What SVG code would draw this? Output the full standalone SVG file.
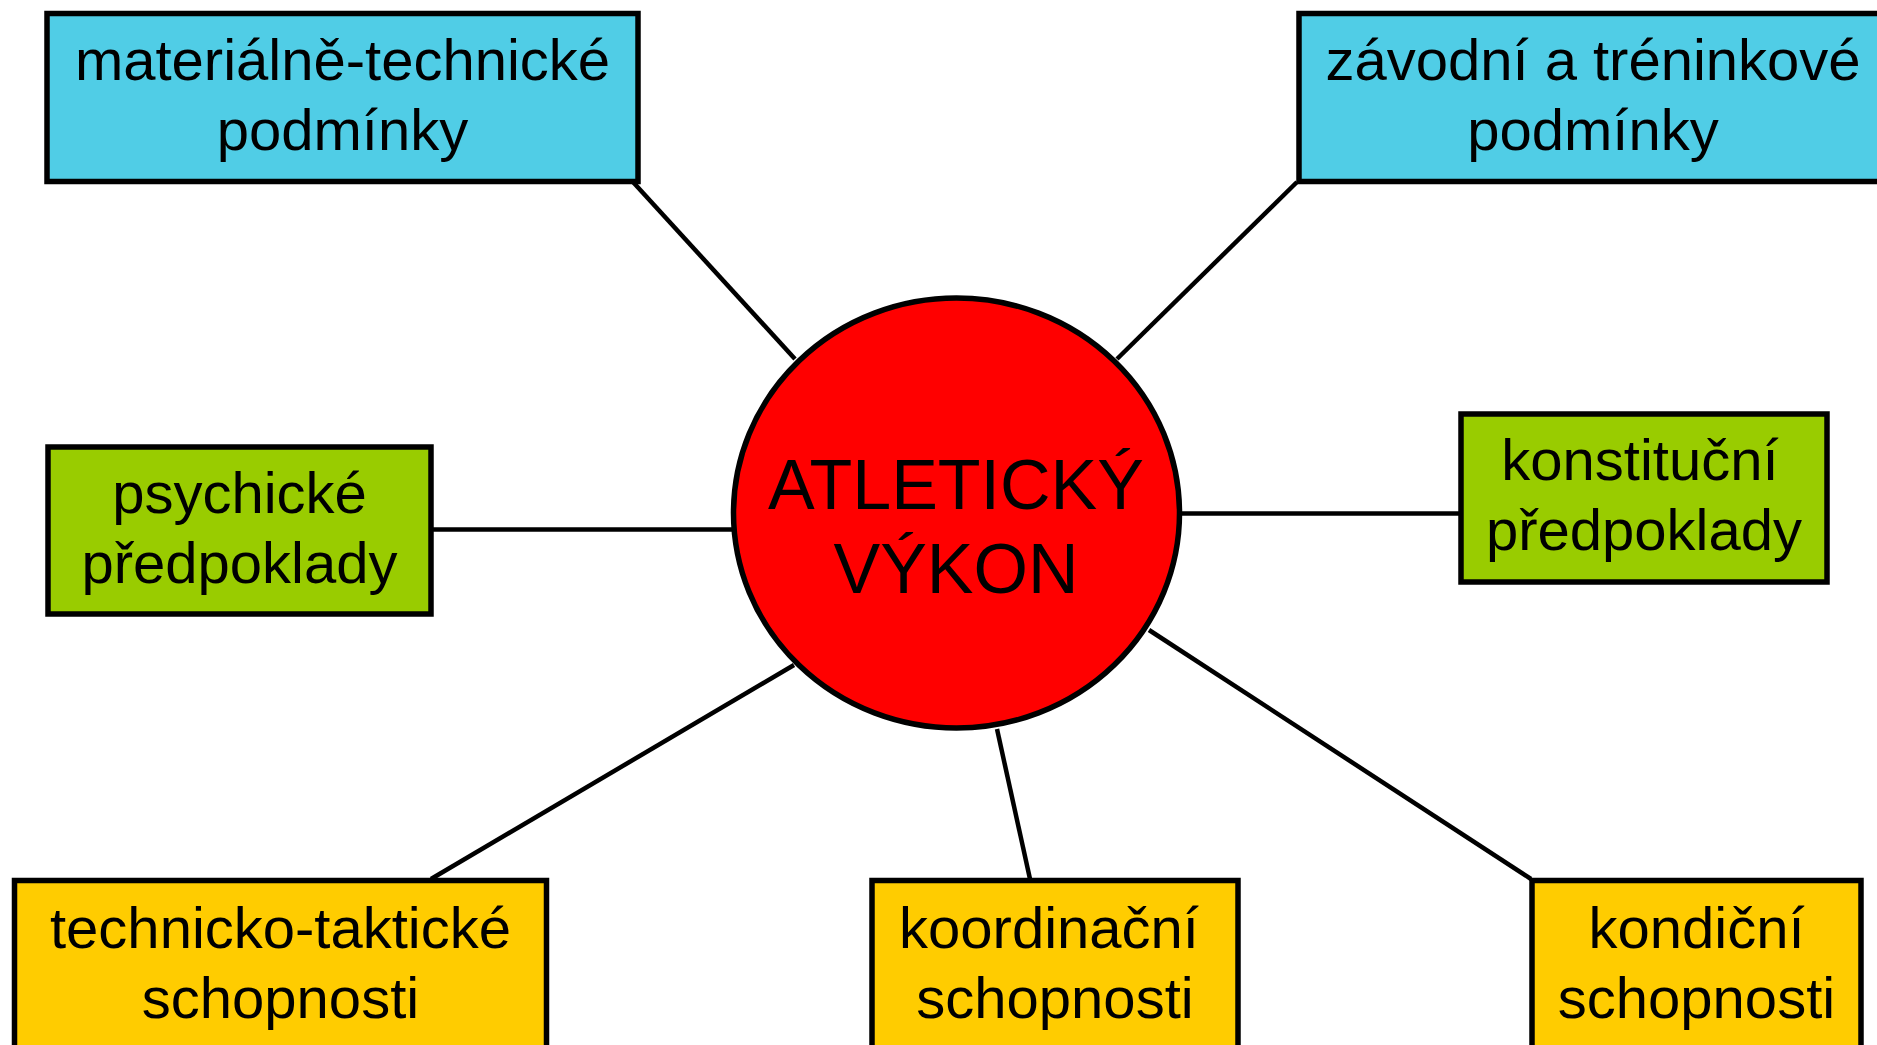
<svg xmlns="http://www.w3.org/2000/svg" width="1877" height="1045" viewBox="0 0 1877 1045">
<style>
.box{stroke:#000;stroke-width:5.5}
.cyan{fill:#50CDE6}
.green{fill:#99CC00}
.yellow{fill:#FFCC00}
.lbl{font-family:"Liberation Sans",Arial,sans-serif;font-size:58px;fill:#000;text-anchor:middle}
.big{font-family:"Liberation Sans",Arial,sans-serif;font-size:70px;fill:#000;text-anchor:middle}
.conn line{stroke:#000;stroke-width:4.5}
</style>
<rect width="1877" height="1045" fill="#fff"/>
<g id="connectors" class="conn">
<line x1="633" y1="182" x2="795" y2="359"/>
<line x1="1297" y1="182" x2="1117" y2="359"/>
<line x1="432" y1="529.5" x2="732" y2="529.5"/>
<line x1="1180" y1="513.5" x2="1462" y2="513.5"/>
<line x1="431" y1="879" x2="794" y2="665"/>
<line x1="997" y1="729" x2="1030" y2="879"/>
<line x1="1149" y1="630" x2="1531" y2="879"/>
</g>
<g id="materialne">
<rect class="box cyan" x="47" y="13.5" width="591" height="168"/>
<text class="lbl" x="342.5" y="80">materiálně-technické</text>
<text class="lbl" x="342.5" y="150">podmínky</text>
</g>
<g id="zavodni">
<rect class="box cyan" x="1299" y="13.5" width="590" height="168"/>
<text class="lbl" x="1593" y="80">závodní a tréninkové</text>
<text class="lbl" x="1593" y="150">podmínky</text>
</g>
<g id="psychicke">
<rect class="box green" x="48" y="447" width="383" height="167"/>
<text class="lbl" x="239.5" y="513">psychické</text>
<text class="lbl" x="239.5" y="583">předpoklady</text>
</g>
<g id="konstitucni">
<rect class="box green" x="1461" y="414" width="366" height="168"/>
<text class="lbl" x="1640" y="480">konstituční</text>
<text class="lbl" x="1644" y="550">předpoklady</text>
</g>
<g id="technicko">
<rect class="box yellow" x="14.5" y="880.5" width="532" height="180"/>
<text class="lbl" x="280.5" y="948">technicko-taktické</text>
<text class="lbl" x="280.5" y="1018">schopnosti</text>
</g>
<g id="koordinacni">
<rect class="box yellow" x="872" y="880.5" width="366" height="180"/>
<text class="lbl" x="1049" y="948">koordinační</text>
<text class="lbl" x="1055" y="1018">schopnosti</text>
</g>
<g id="kondicni">
<rect class="box yellow" x="1532" y="880.5" width="329" height="180"/>
<text class="lbl" x="1696.5" y="948">kondiční</text>
<text class="lbl" x="1696.5" y="1018">schopnosti</text>
</g>
<g id="vykon">
<ellipse cx="956.5" cy="513" rx="223" ry="215" fill="#FF0000" stroke="#000" stroke-width="5.5"/>
<text class="big" x="956" y="509">ATLETICKÝ</text>
<text class="big" x="956" y="593">VÝKON</text>
</g>
</svg>
